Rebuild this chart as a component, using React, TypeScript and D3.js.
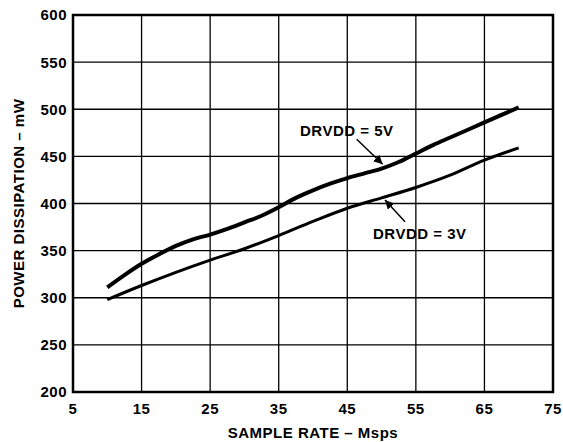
import React from "react";
import * as d3 from "d3";

const xTicks = [5, 15, 25, 35, 45, 55, 65, 75];
const yTicks = [200, 250, 300, 350, 400, 450, 500, 550, 600];

const rate5V = [10, 12.5, 15, 17.5, 20, 22.5, 25, 27.5, 30, 32.5, 35, 37.5, 40, 42.5, 45, 47.5, 50, 52.5, 55, 57.5, 60, 62.5, 65, 67.5, 70];
const power5V = [311, 324, 336, 346, 355, 362, 367, 373, 380, 387, 396, 406, 414, 421, 427, 432, 437, 444, 453, 462, 470, 478, 486, 494, 502];

const rate3V = [10, 15, 20, 25, 30, 35, 40, 45, 50, 55, 60, 65, 70];
const power3V = [298, 313, 327, 340, 352, 366, 381, 395, 406, 417, 430, 446, 459];

const W = 563;
const H = 442;
const left = 73, right = 553, top = 15, bottom = 392;

export default function App() {
  const x = d3.scaleLinear().domain([5, 75]).range([left, right]);
  const y = d3.scaleLinear().domain([200, 600]).range([bottom, top]);
  const line = d3.line<[number, number]>().x(d => x(d[0])).y(d => y(d[1])).curve(d3.curveMonotoneX);
  const d5 = line(rate5V.map((r, i) => [r, power5V[i]]));
  const d3v = line(rate3V.map((r, i) => [r, power3V[i]]));
  const font = "'Liberation Sans', Arial, Helvetica, sans-serif";
  return (
    <svg width={W} height={H} style={{ position: "absolute", left: 0, top: 0, background: "#fff" }}>
      <defs>
        <marker id="ah" viewBox="0 0 10 10" refX="10" refY="5" markerWidth="9" markerHeight="9" markerUnits="userSpaceOnUse" orient="auto">
          <path d="M0,0 L10,5 L0,10 z" fill="#000" />
        </marker>
      </defs>
      <g stroke="#000" strokeWidth={1.3}>
        {xTicks.slice(1, -1).map(t => (
          <line key={"gx" + t} x1={x(t)} x2={x(t)} y1={top} y2={bottom} />
        ))}
        {yTicks.slice(1, -1).map(t => (
          <line key={"gy" + t} x1={left} x2={right} y1={y(t)} y2={y(t)} />
        ))}
      </g>
      <rect x={left} y={top} width={right - left} height={bottom - top} fill="none" stroke="#000" strokeWidth={2.5} />
      <path d={d5 || ""} fill="none" stroke="#000" strokeWidth={4} />
      <path d={d3v || ""} fill="none" stroke="#000" strokeWidth={3} />
      <g fontFamily={font} fontWeight="bold" fontSize={15} fill="#000" letterSpacing={0.5}>
        {yTicks.map(t => (
          <text key={"yl" + t} x={67} y={y(t)} dy="0.36em" textAnchor="end">{t}</text>
        ))}
        {xTicks.map(t => (
          <text key={"xl" + t} x={x(t)} y={414} textAnchor="middle">{t}</text>
        ))}
        <text x={(left + right) / 2} y={437.5} textAnchor="middle">SAMPLE RATE – Msps</text>
        <text transform={`translate(24, ${(top + bottom) / 2}) rotate(-90)`} textAnchor="middle">POWER DISSIPATION – mW</text>
        <text x={300} y={136} textAnchor="start">DRVDD = 5V</text>
        <text x={373} y={238.5} textAnchor="start">DRVDD = 3V</text>
      </g>
      <line x1={356.7} y1={139.3} x2={382.7} y2={164.3} stroke="#000" strokeWidth={1.5} markerEnd="url(#ah)" />
      <line x1={405} y1={221.7} x2={385} y2={200} stroke="#000" strokeWidth={1.5} markerEnd="url(#ah)" />
    </svg>
  );
}
